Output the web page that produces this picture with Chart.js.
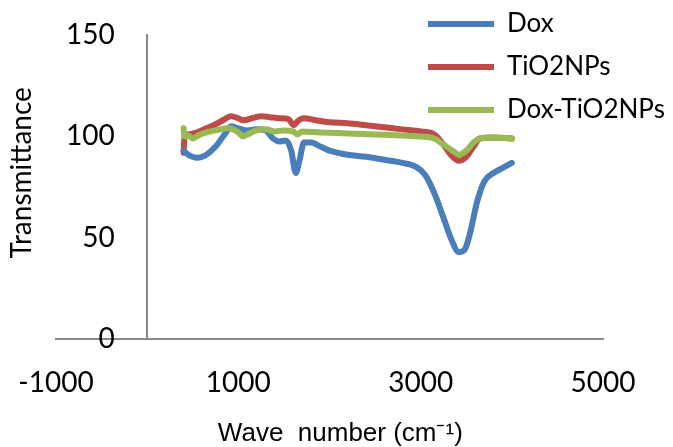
<!DOCTYPE html>
<html>
<head>
<meta charset="utf-8">
<script src="https://cdn.jsdelivr.net/npm/chart.js@4.4.1/dist/chart.umd.min.js"></script>
<style>
  html, body { margin: 0; padding: 0; background: #fff; }
</style>
</head>
<body>
<canvas id="myChart" width="673" height="447"></canvas>
<script>
// series names
var nombres = ["Dox", "TiO2NPs", "Dox-TiO2NPs"];

// Dox
var doxWave = [400, 450, 550, 650, 750, 850, 920, 1000, 1100, 1200, 1300, 1380, 1450, 1520, 1580, 1630, 1670, 1720, 1800, 1900, 2000, 2200, 2400, 2600, 2800, 2950, 3050, 3150, 3250, 3330, 3420, 3480, 3540, 3620, 3700, 3800, 3900, 4000];
var doxT = [93, 91, 89.5, 91, 95, 101, 105, 104, 103, 103.5, 103, 99, 97.5, 98, 93, 82, 88, 97, 97, 95, 93, 91, 90, 88.5, 87, 85, 81, 72, 60, 50, 43, 44, 52, 68, 78, 82, 84.5, 87];

// TiO2NPs
var tioWave = [400, 410, 450, 550, 650, 750, 850, 920, 1000, 1050, 1150, 1250, 1350, 1450, 1550, 1610, 1650, 1720, 1850, 2000, 2200, 2400, 2600, 2800, 3000, 3150, 3250, 3330, 3420, 3500, 3580, 3650, 3800, 4000];
var tioT = [92, 100, 101, 102, 104, 106, 108.5, 110, 109, 108, 109, 110, 109.5, 109, 108.5, 105.5, 107.5, 109, 108, 107, 106.5, 105.5, 104.5, 103.5, 102.5, 101, 96, 91, 88, 90, 95, 99, 99.5, 99];

// Dox-TiO2NPs
var dtWave = [400, 410, 450, 500, 560, 650, 750, 900, 1000, 1050, 1100, 1200, 1300, 1400, 1500, 1600, 1650, 1700, 1900, 2200, 2500, 2800, 3000, 3150, 3250, 3350, 3420, 3500, 3580, 3650, 3800, 4000];
var dtT = [104, 100, 100.5, 99, 100.5, 102, 103, 104, 102, 100, 101, 103, 103.5, 102.5, 103, 102.5, 101, 102.5, 102, 101.5, 101, 100.5, 100, 99, 96, 93, 91, 93, 97, 99, 99.5, 99];

// axis ticks
var xTicks = [-1000, 1000, 3000, 5000];
var yTicks = [0, 50, 100, 150];

function puntos(xs, ys) {
  var arr = [];
  for (let i = 0; i < xs.length; i++) {
    arr.push({ x: xs[i], y: ys[i] });
  }
  return arr;
}

function serie(i, xs, ys, color, orden) {
  return {
    label: nombres[i],
    data: puntos(xs, ys),
    borderColor: color,
    backgroundColor: color,
    borderWidth: 6,
    borderCapStyle: "round",
    borderJoinStyle: "round",
    pointRadius: 0,
    cubicInterpolationMode: "monotone",
    order: orden,
  };
}

//! Mueve la leyenda arriba a la derecha
const moverLeyenda = {
  id: "moverLeyenda",
  afterLayout(chart) {
    var lg = chart.legend;
    lg.left = chart.chartArea.right - 192;
    lg.top = -6;
    lg.right = lg.left + lg.width;
    lg.bottom = lg.top + lg.height;
  },
};

const gris = "#898989";
const fuenteEje = { family: "Lato", size: 28, lineHeight: 1.2 };

const data = {
  datasets: [
    serie(0, doxWave, doxT, "#4A7EBB", 1),
    serie(1, tioWave, tioT, "#BE4B48", 2),
    serie(2, dtWave, dtT, "#98B954", 0),
  ],
};

const config = {
  type: "line",
  data: data,
  options: {
    responsive: false,
    animation: false,
    devicePixelRatio: 1,
    layout: { padding: { left: 5, right: 70, top: 35, bottom: 0 } },
    plugins: {
      tooltip: { enabled: false },
      legend: {
        position: "chartArea",
        align: "start",
        fullSize: false,
        labels: {
          usePointStyle: true,
          pointStyle: "line",
          pointStyleWidth: 66,
          padding: 17,
          color: "#000",
          font: { family: "Lato", size: 26 },
          sort: (a, b) => a.datasetIndex - b.datasetIndex,
        },
      },
    },
    scales: {
      x: {
        type: "linear",
        position: "bottom",
        min: xTicks[0],
        max: xTicks[xTicks.length - 1],
        afterBuildTicks: (s) => { s.ticks = xTicks.map((v) => ({ value: v })); },
        ticks: {
          padding: 0,
          maxRotation: 0,
          color: "#000",
          font: fuenteEje,
          callback: (v) => String(v),
        },
        // tick marks hidden, tickLength only spaces the labels
        grid: { display: false, drawTicks: true, tickLength: 27 },
        border: { color: gris, width: 2 },
        title: {
          display: true,
          text: "   Wave  number (cm\u207B\u00B9)",
          color: "#000",
          font: { family: "Liberation Sans", size: 26, lineHeight: 1.0 },
          padding: { top: 21, bottom: 0 },
        },
      },
      // vertical axis line crossing at x = 0
      y: {
        type: "linear",
        position: { x: 0 },
        min: yTicks[0],
        max: yTicks[yTicks.length - 1],
        afterBuildTicks: (s) => { s.ticks = yTicks.map((v) => ({ value: v })); },
        ticks: { display: false },
        grid: { display: false, drawTicks: false },
        border: { color: gris, width: 2 },
      },
      // y tick labels, inside the plot area
      yLab: {
        type: "linear",
        position: "left",
        min: yTicks[0],
        max: yTicks[yTicks.length - 1],
        afterBuildTicks: (s) => { s.ticks = yTicks.map((v) => ({ value: v })); },
        ticks: {
          mirror: true,
          crossAlign: "far",
          padding: 10,
          color: "#000",
          font: fuenteEje,
          callback: (v) => String(v),
        },
        grid: { display: false, drawTicks: false },
        border: { display: false },
      },
      yTitle: {
        type: "linear",
        position: "left",
        ticks: { display: false },
        grid: { display: false, drawTicks: false },
        border: { display: false },
        title: {
          display: true,
          text: "    Transmittance",
          color: "#000",
          font: { family: "Lato", size: 28, lineHeight: 1.0 },
          padding: { top: 3, bottom: 0 },
        },
      },
    },
  },
  plugins: [moverLeyenda],
};

const myChart = new Chart(document.getElementById("myChart"), config);
</script>
</body>
</html>
